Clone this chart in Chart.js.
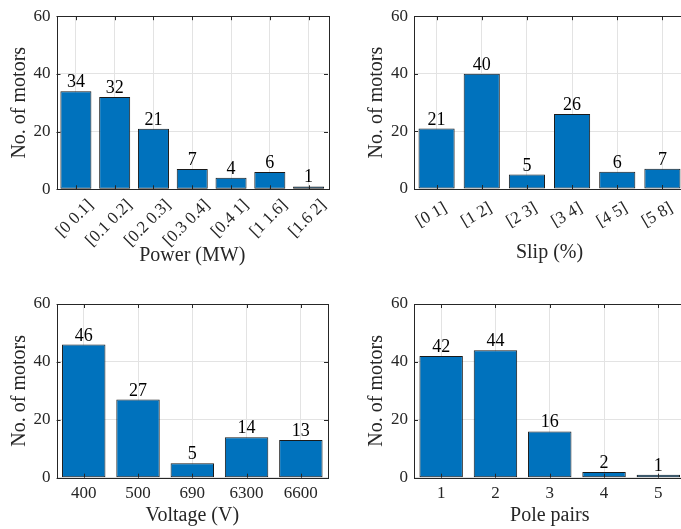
<!DOCTYPE html>
<html>
<head>
<meta charset="utf-8">
<title>Motor statistics</title>
<script src="https://cdn.jsdelivr.net/npm/chart.js@4.4.1/dist/chart.umd.min.js"></script>
<style>
  html, body { margin: 0; padding: 0; background: #fff; }
  body { position: relative; width: 681px; height: 529px; overflow: hidden; }
  canvas { position: absolute; }
</style>
</head>
<body>
<canvas id="power" width="340" height="270" style="left:0;top:0"></canvas>
<canvas id="slip" width="350" height="270" style="left:340px;top:0"></canvas>
<canvas id="voltage" width="340" height="259" style="left:0;top:270px"></canvas>
<canvas id="poles" width="350" height="259" style="left:340px;top:270px"></canvas>
<script>
const powerLabels = ["[0 0.1]", "[0.1 0.2]", "[0.2 0.3]", "[0.3 0.4]", "[0.4 1]", "[1 1.6]", "[1.6 2]"];
const powerCounts = [34, 32, 21, 7, 4, 6, 1];

const slipLabels = ["[0 1]", "[1 2]", "[2 3]", "[3 4]", "[4 5]", "[5 8]"];
const slipCounts = [21, 40, 5, 26, 6, 7];

const voltageLabels = ["400", "500", "690", "6300", "6600"];
const voltageCounts = [46, 27, 5, 14, 13];

const poleLabels = ["1", "2", "3", "4", "5"];
const poleCounts = [42, 44, 16, 2, 1];

const countTicks = [0, 20, 40, 60];

const FONT = "'Liberation Serif', 'Times New Roman', serif";
const AXIS_COLOR = "#262626";
const GRID_COLOR = "#e3e3e3";
const BAR_COLOR = "#0072bd";

// box around the axes with short inward ticks on all four sides
const boxFrame = {
    id: "boxFrame",
    afterDraw(chart) {
        const { ctx, chartArea: a, scales } = chart;
        const t = 4;
        ctx.save();
        ctx.strokeStyle = AXIS_COLOR;
        ctx.lineWidth = 1;
        ctx.beginPath();
        scales.x.ticks.forEach((_, i) => {
            const x = Math.round(scales.x.getPixelForTick(i)) + 0.5;
            ctx.moveTo(x, a.bottom); ctx.lineTo(x, a.bottom - t);
            ctx.moveTo(x, a.top); ctx.lineTo(x, a.top + t);
        });
        scales.y.ticks.forEach((_, i) => {
            const y = Math.round(scales.y.getPixelForTick(i)) + 0.5;
            ctx.moveTo(a.left, y); ctx.lineTo(a.left + t, y);
            ctx.moveTo(a.right, y); ctx.lineTo(a.right - t, y);
        });
        ctx.stroke();
        ctx.strokeRect(Math.round(a.left) + 0.5, Math.round(a.top) + 0.5,
            Math.round(a.right - a.left), Math.round(a.bottom - a.top));
        ctx.restore();
    }
};

// count written above each bar
const barValues = {
    id: "barValues",
    afterDatasetsDraw(chart) {
        const { ctx } = chart;
        const meta = chart.getDatasetMeta(0);
        const data = chart.data.datasets[0].data;
        ctx.save();
        ctx.font = "18px " + FONT;
        ctx.fillStyle = "#000";
        ctx.textAlign = "center";
        ctx.textBaseline = "alphabetic";
        meta.data.forEach((bar, i) => {
            ctx.fillText(String(data[i]), bar.x, bar.y - 4);
        });
        ctx.restore();
    }
};

function makePanel(id, labels, counts, xTitle, o) {
    new Chart(document.getElementById(id), {
        type: "bar",
        data: {
            labels,
            datasets: [{
                data: counts,
                backgroundColor: BAR_COLOR,
                borderColor: "#1a1a1a",
                borderWidth: 1,
                borderSkipped: false,
                barPercentage: 0.8,
                categoryPercentage: 1
            }]
        },
        options: {
            responsive: false,
            animation: false,
            devicePixelRatio: 1,
            layout: { padding: { top: o.top, right: o.right, left: 0, bottom: 0 } },
            plugins: { legend: { display: false }, tooltip: { enabled: false } },
            scales: {
                x: {
                    grid: { color: GRID_COLOR, offset: false, drawTicks: false },
                    border: { display: false },
                    ticks: {
                        color: AXIS_COLOR,
                        font: { family: FONT, size: 17 },
                        padding: o.tickPad,
                        labelOffset: o.labelShift,
                        minRotation: o.rot,
                        maxRotation: o.rot,
                        autoSkip: false
                    },
                    title: {
                        display: true,
                        text: xTitle,
                        color: AXIS_COLOR,
                        font: { family: FONT, size: 20 },
                        padding: { top: 0, bottom: o.xTitlePad }
                    },
                    afterFit(s) { s.height = o.xHeight; s.paddingLeft = 0; s.paddingRight = 0; }
                },
                y: {
                    min: 0,
                    max: 60,
                    grid: { color: GRID_COLOR, drawTicks: false },
                    border: { display: false },
                    afterBuildTicks(s) { s.ticks = countTicks.map(v => ({ value: v })); },
                    ticks: {
                        color: AXIS_COLOR,
                        font: { family: FONT, size: 17 },
                        padding: 6
                    },
                    title: {
                        display: true,
                        text: "No. of motors",
                        color: AXIS_COLOR,
                        font: { family: FONT, size: 20 },
                        padding: { top: o.yTitlePad, bottom: 0 }
                    },
                    afterFit(s) { s.width = o.yWidth; }
                }
            }
        },
        plugins: [boxFrame, barValues]
    });
}

makePanel("power", powerLabels, powerCounts, "Power (MW)",
    { top: 15, right: 12, yWidth: 56.5, xHeight: 80.7, rot: 45, tickPad: 6, labelShift: 15, xTitlePad: 2, yTitlePad: 8 });
makePanel("slip", slipLabels, slipCounts, "Slip (%)",
    { top: 15, right: 5, yWidth: 74, xHeight: 81, rot: 30, tickPad: 9, labelShift: 9, xTitlePad: 5, yTitlePad: 25 });
makePanel("voltage", voltageLabels, voltageCounts, "Voltage (V)",
    { top: 34, right: 12, yWidth: 56.6, xHeight: 51.3, rot: 0, tickPad: 6, labelShift: 0, xTitlePad: 1.5, yTitlePad: 8 });
makePanel("poles", poleLabels, poleCounts, "Pole pairs",
    { top: 34, right: 4.5, yWidth: 74, xHeight: 51.3, rot: 0, tickPad: 6, labelShift: 0, xTitlePad: 1.5, yTitlePad: 25 });
</script>
</body>
</html>
